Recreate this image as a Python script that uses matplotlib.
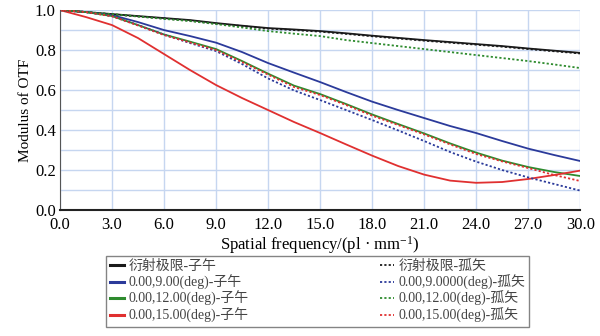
import numpy as np
import matplotlib
matplotlib.use("Agg")
import matplotlib.pyplot as plt

plt.rcParams['font.family'] = ['Liberation Serif', 'Noto Sans CJK SC', 'DejaVu Sans']

freq = [0, 1.5, 3, 4.5, 6, 7.5, 9, 10.5, 12, 13.5, 15,
        16.5, 18, 19.5, 21, 22.5, 24, 25.5, 27, 28.5, 30]

diff_t = [1.0, 0.99, 0.98, 0.97, 0.96, 0.95, 0.935, 0.922, 0.91, 0.903, 0.895,
          0.884, 0.872, 0.861, 0.85, 0.84, 0.83, 0.82, 0.808, 0.797, 0.786]
diff_s = [1.0, 0.99, 0.979, 0.968, 0.958, 0.947, 0.932, 0.92, 0.907, 0.9, 0.892,
          0.881, 0.869, 0.858, 0.847, 0.837, 0.827, 0.817, 0.805, 0.794, 0.783]
f9_t = [1.0, 0.99, 0.975, 0.94, 0.9, 0.87, 0.837, 0.79, 0.735, 0.687, 0.64,
        0.59, 0.542, 0.5, 0.46, 0.42, 0.385, 0.345, 0.307, 0.275, 0.245]
f9_s = [1.0, 0.99, 0.97, 0.925, 0.877, 0.835, 0.795, 0.73, 0.658, 0.598, 0.55,
        0.5, 0.45, 0.398, 0.345, 0.29, 0.242, 0.2, 0.163, 0.13, 0.097]
f12_t = [1.0, 0.99, 0.97, 0.925, 0.878, 0.842, 0.805, 0.745, 0.682, 0.622, 0.58,
         0.53, 0.478, 0.43, 0.383, 0.333, 0.287, 0.247, 0.215, 0.19, 0.17]
f12_s = [1.0, 0.99, 0.98, 0.968, 0.956, 0.945, 0.93, 0.913, 0.895, 0.882, 0.87,
         0.85, 0.835, 0.82, 0.805, 0.79, 0.775, 0.76, 0.745, 0.728, 0.71]
f15_t = [1.0, 0.965, 0.925, 0.86, 0.78, 0.7, 0.625, 0.56, 0.5, 0.44, 0.385,
         0.328, 0.272, 0.22, 0.177, 0.147, 0.136, 0.14, 0.155, 0.175, 0.197]
f15_s = [1.0, 0.99, 0.969, 0.923, 0.875, 0.838, 0.8, 0.74, 0.677, 0.615, 0.575,
         0.525, 0.472, 0.425, 0.378, 0.328, 0.28, 0.243, 0.21, 0.175, 0.145]

labels_t = ['衍射极限-子午', '0.00,9.00(deg)-子午', '0.00,12.00(deg)-子午', '0.00,15.00(deg)-子午']
labels_s = ['衍射极限-孤矢', '0.00,9.0000(deg)-孤矢', '0.00,12.00(deg)-孤矢', '0.00,15.00(deg)-孤矢']
colors = ['#1a1a1a', '#2b3a9a', '#2e8b2e', '#e03030']

fig = plt.figure(figsize=(6, 3.36), dpi=100)
ax = fig.add_axes([0.1, 0.375, 0.867, 0.595])

tan = [diff_t, f9_t, f12_t, f15_t]
sag = [diff_s, f9_s, f12_s, f15_s]
handles = []
for i in range(4):
    h, = ax.plot(freq, tan[i], color=colors[i], lw=1.3, label=labels_t[i])
    handles.append(h)
for i in range(4):
    h, = ax.plot(freq, sag[i], color=colors[i], lw=1.3, ls=(0, (1.2, 1.2)), label=labels_s[i])
    handles.append(h)

ax.set_xlim(0, 30)
ax.set_ylim(0, 1.0)
ax.set_xticks(np.arange(0, 30.1, 3))
ax.set_xticklabels(['%.1f' % v for v in np.arange(0, 30.1, 3)])
ax.set_yticks(np.arange(0, 1.01, 0.2))
ax.set_yticklabels(['%.1f' % v for v in np.arange(0, 1.01, 0.2)])
ax.set_yticks(np.arange(0, 1.01, 0.1), minor=True)
ax.grid(True, which='both', color='#c6d6f0', lw=1)
ax.set_axisbelow(True)
ax.tick_params(which='both', length=0, labelsize=12)
ax.tick_params(axis='x', pad=5)
ax.tick_params(axis='y', pad=3)
for lab in ax.get_yticklabels():
    lab.set_va('center_baseline')
for s in ['top', 'right']:
    ax.spines[s].set_visible(False)
ax.spines['left'].set_color('#555555')
ax.spines['bottom'].set_color('#222222')
ax.spines['bottom'].set_linewidth(1.5)

ax.set_xlabel('Spatial frequency/(pl · mm$\\mathregular{^{-1}}$)', fontsize=12, labelpad=1)
ax.set_ylabel('Modulus of OTF', fontsize=11, labelpad=2)

leg = fig.legend(handles=handles, ncol=2, loc='lower left',
                 bbox_to_anchor=(0.165, 0.005), fontsize=10,
                 handlelength=1.0, handletextpad=0.3, columnspacing=9.5,
                 labelspacing=0.12, borderpad=0.3, fancybox=False,
                 edgecolor='#666666', frameon=True)
leg.get_frame().set_linewidth(1.0)
for t in leg.get_texts():
    t.set_color('#444444')
for h in leg.legend_handles[:4]:
    h.set_linewidth(2.2)

fig.savefig('out.png', dpi=100)
